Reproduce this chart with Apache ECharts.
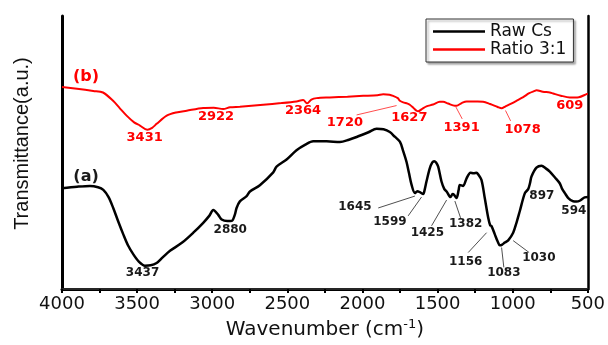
<!DOCTYPE html>
<html>
<head>
<meta charset="utf-8">
<script src="https://cdn.jsdelivr.net/npm/echarts@6/dist/echarts.min.js"></script>
<style>
  html, body { margin: 0; padding: 0; background: #fff; }
  #ftir-chart { width: 608px; height: 345px; }
</style>
</head>
<body>
<div id="ftir-chart"></div>
<script>
// FTIR spectra: Raw Cs (a) and Ratio 3:1 (b)

// Raw Cs - wavenumber (cm-1) / transmittance (a.u.)
const rawWn = [4000, 3900, 3814, 3760, 3725, 3690, 3659, 3625, 3592, 3560, 3526, 3490, 3448, 3410, 3370, 3330, 3281, 3200, 3126, 3060, 3020, 2993, 2960, 2937, 2900, 2870, 2850, 2838, 2816, 2771, 2749, 2683, 2594, 2572, 2505, 2439, 2380, 2328, 2239, 2150, 2090, 2039, 1960, 1906, 1860, 1818, 1785, 1751, 1730, 1707, 1690, 1673, 1651, 1635, 1618, 1596, 1585, 1574, 1552, 1535, 1523, 1510, 1496, 1474, 1455, 1440, 1414, 1400, 1390, 1374, 1360, 1352, 1330, 1307, 1281, 1260, 1240, 1230, 1208, 1186, 1163, 1150, 1141, 1119, 1100, 1086, 1070, 1053, 1030, 997, 975, 953, 919, 897, 885, 875, 842, 808, 780, 753, 720, 687, 670, 653, 630, 598, 575, 554, 521, 500];
const rawT = [102, 103.5, 104.3, 103, 100.3, 93, 82, 68, 55.3, 44, 35.3, 28, 23.7, 24, 26.3, 32, 38.7, 47, 57, 67, 74, 80, 75, 70.3, 68.7, 69, 75, 82, 88.7, 94, 98.7, 105, 118, 123.7, 131, 140.3, 146, 149.3, 149.3, 148.7, 151, 153.7, 158.5, 162, 161.5, 158.7, 154, 149, 140, 128.7, 117, 105.3, 97, 99, 98, 96, 101, 108.7, 122, 128, 129.3, 128, 123.7, 108.7, 101, 98.7, 93, 96, 95.3, 92, 100, 105.3, 104.3, 112, 117.7, 117, 117.5, 116, 110.3, 92, 72, 64.5, 63.7, 55.3, 48, 44.3, 45, 47, 49.3, 57, 67, 78.7, 97, 101, 107, 113.7, 122.7, 124.7, 122, 118.7, 113, 107, 101, 97, 92, 88.7, 88.5, 89.3, 92.7, 93];

// Ratio 3:1
const ratioWn = [4000, 3900, 3792, 3727, 3660, 3615, 3570, 3520, 3481, 3432, 3400, 3370, 3303, 3240, 3170, 3060, 2990, 2927, 2882, 2816, 2661, 2540, 2439, 2395, 2368, 2340, 2305, 2217, 2100, 1995, 1900, 1862, 1820, 1796, 1765, 1751, 1729, 1700, 1685, 1660, 1640, 1629, 1600, 1574, 1530, 1485, 1463, 1430, 1385, 1374, 1340, 1307, 1250, 1197, 1150, 1100, 1074, 1050, 1010, 975, 930, 890, 853, 842, 800, 753, 731, 680, 620, 560, 509, 500];
const ratioT = [204.3, 202.5, 200.3, 198.7, 190.3, 182.7, 175.3, 168.5, 165.3, 161, 163, 167, 175.3, 178.5, 180.3, 183, 183.3, 182, 183.7, 184.3, 186.3, 188, 189.7, 191, 187.7, 191.5, 193, 193.7, 194.5, 195.3, 196, 197, 196.5, 195.3, 193, 190.3, 188.7, 187.5, 186.3, 183, 180.3, 179.7, 182.5, 184.7, 186.5, 189.3, 189.3, 187.5, 185.3, 185.3, 188, 189.7, 189.5, 189.3, 187, 184, 182.7, 184.5, 187.5, 190.3, 194, 198, 200.3, 201, 199.5, 198.7, 197.7, 195.5, 193.7, 194, 197, 197.5];

const seriesNames = ["Raw Cs", "Ratio 3:1"];

// peak labels: text, anchor wavenumber, anchor transmittance
const rawPeaks = [["(a)", 3840, 113], ["3437", 3464, 16], ["2880", 2880, 60], ["1645", 2050, 83], ["1599", 1817, 68], ["1425", 1568, 57], ["1382", 1313, 66], ["1156", 1313, 27.5], ["1083", 1059, 16], ["1030", 826, 31.5], ["897", 806, 94], ["594", 593, 79.5]];
const ratioPeaks = [["(b)", 3840, 214.5], ["3431", 3450, 153.3], ["2922", 2975, 174], ["2364", 2396, 180], ["1720", 2117, 168.3], ["1627", 1688, 173.7], ["1391", 1340, 163], ["1078", 934, 161], ["609", 620, 185.3]];

// arrows: from [wn, T] to [wn, T]
const rawArrows = [[1895, 82, 1651, 94], [1696, 74, 1607, 93], [1540, 64, 1440, 90], [1347, 72, 1385, 89], [1296, 37, 1174, 57], [1059, 22, 1074, 42], [891, 37, 997, 49]];
const ratioArrows = [[2039, 176, 1773, 185.5], [1336, 172, 1378, 184], [1014, 170, 1048, 180.5]];

function initFtirChart() {
  const chart = echarts.init(document.getElementById("ftir-chart"));

  function pairs(xs, ys) {
    return xs.map((x, i) => [x, ys[i]]);
  }

  function peakMarks(list, color, size) {
    return {
      symbol: "circle",
      symbolSize: 1,
      silent: true,
      itemStyle: { color: "transparent" },
      label: {
        show: true,
        position: "inside",
        formatter: "{b}",
        color: color,
        fontFamily: "DejaVu Sans",
        fontWeight: "bold",
        fontSize: size,
      },
      data: list.map((p) => ({
        name: p[0],
        coord: [p[1], p[2]],
        label: p[0].startsWith("(") ? { fontSize: 16 } : {},
      })),
    };
  }

  function arrowMarks(list, color, width) {
    return {
      silent: true,
      symbol: ["none", "arrow"],
      symbolSize: [0, 6],
      lineStyle: { color: color, width: width, type: "solid" },
      label: { show: false },
      data: list.map((a) => [{ coord: [a[0], a[1]] }, { coord: [a[2], a[3]] }]),
    };
  }

  const option = {
    animation: false,
    grid: { left: 62, right: 20, top: 16, bottom: 53 },
    legend: {
      data: seriesNames.map((n) => ({ name: n, icon: "rect" })),
      orient: "vertical",
      left: 426,
      top: 19,
      padding: [4, 7, 4, 7],
      itemGap: 1,
      itemWidth: 52,
      itemHeight: 2.5,
      backgroundColor: "#fff",
      borderColor: "#333",
      borderWidth: 1,
      borderRadius: 0,
      shadowColor: "rgba(0,0,0,0.35)",
      shadowBlur: 2,
      shadowOffsetX: 2,
      shadowOffsetY: 2,
      textStyle: { fontFamily: "DejaVu Sans", fontSize: 17, color: "#111", lineHeight: 17 },
    },
    xAxis: [
      {
        type: "value",
        inverse: true,
        min: 500,
        max: 4000,
        interval: 500,
        name: "{t|Wavenumber (cm}{s|-1}{t|)}",
        nameLocation: "middle",
        nameGap: 24,
        nameTextStyle: {
          rich: {
            t: { fontFamily: "DejaVu Sans", fontSize: 20, lineHeight: 24, color: "#111" },
            s: { fontFamily: "DejaVu Sans", fontSize: 13, lineHeight: 14, verticalAlign: "top", color: "#111" },
          },
        },
        axisLine: { lineStyle: { color: "#000", width: 3 } },
        axisTick: { show: true, length: 4, lineStyle: { color: "#000", width: 2 } },
        minorTick: { show: true, splitNumber: 2, length: 4, lineStyle: { color: "#000", width: 2 } },
        axisLabel: {
          margin: 6,
          fontFamily: "DejaVu Sans",
          fontSize: 18,
          color: "#111",
          formatter: (v) => String(v),
        },
        splitLine: { show: false },
      },
      {
        type: "value",
        position: "top",
        inverse: true,
        min: 500,
        max: 4000,
        axisLine: { show: true, lineStyle: { color: "#333", width: 1.5 } },
        axisTick: { show: false },
        axisLabel: { show: false },
        splitLine: { show: false },
      },
    ],
    yAxis: [
      {
        type: "value",
        min: 0,
        max: 276,
        name: "Transmittance(a.u.)",
        nameLocation: "middle",
        nameGap: 30,
        nameTextStyle: { fontFamily: "Liberation Sans", fontSize: 20, color: "#111", padding: [0, 0, 0, 18] },
        axisLine: { show: true, lineStyle: { color: "#000", width: 3 } },
        axisTick: { show: false },
        axisLabel: { show: false },
        splitLine: { show: false },
      },
      {
        type: "value",
        position: "right",
        min: 0,
        max: 276,
        axisLine: { show: true, lineStyle: { color: "#000", width: 2.5 } },
        axisTick: { show: false },
        axisLabel: { show: false },
        splitLine: { show: false },
      },
    ],
    series: [
      {
        name: seriesNames[0],
        type: "line",
        data: pairs(rawWn, rawT),
        symbol: "none",
        smooth: 0.3,
        color: "#000",
        lineStyle: { color: "#000", width: 2.5 },
        emphasis: { disabled: true },
        markPoint: peakMarks(rawPeaks, "#1a1a1a", 12),
        markLine: arrowMarks(rawArrows, "#222", 0.8),
      },
      {
        name: seriesNames[1],
        type: "line",
        data: pairs(ratioWn, ratioT),
        symbol: "none",
        smooth: 0.3,
        color: "#ff0000",
        lineStyle: { color: "#ff0000", width: 2 },
        emphasis: { disabled: true },
        markPoint: peakMarks(ratioPeaks, "#ff0000", 13),
        markLine: arrowMarks(ratioArrows, "#ff2020", 0.8),
      },
    ],
  };

  chart.setOption(option);
  return chart;
}

window.ftirChart = initFtirChart();
</script>
</body>
</html>
